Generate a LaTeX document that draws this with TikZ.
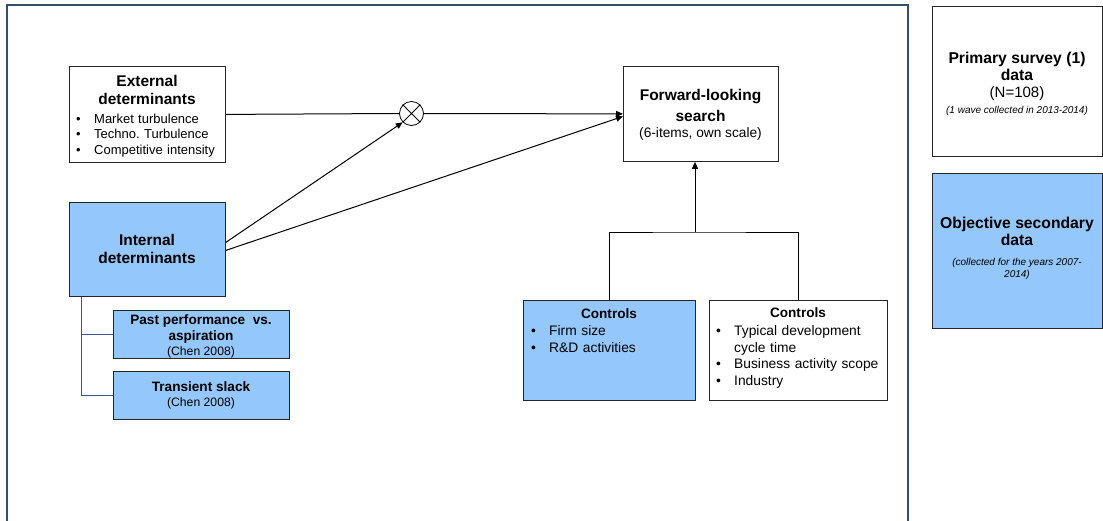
\documentclass[tikz,border=0pt]{standalone}
\usepackage{fontspec}
\setmainfont{Liberation Sans}
\usetikzlibrary{arrows.meta}
\definecolor{lblue}{RGB}{148,200,252}
\definecolor{framec}{RGB}{52,78,108}
\definecolor{treec}{RGB}{60,84,150}
\newcommand\bul{\hangindent=18pt\hangafter=1\makebox[18pt][l]{\textbullet}}
\frenchspacing
\begin{document}
\begin{tikzpicture}[x=1pt,y=-1pt,
  box/.style={draw=black!85, line width=0.8pt, inner sep=0pt, anchor=north west},
  bluebox/.style={box, fill=lblue},
  ttl/.style={font=\bfseries\fontsize{15.5}{18}\selectfont, align=center, inner sep=0pt, anchor=base},
  sttl/.style={font=\bfseries\fontsize{13.6}{16.7}\selectfont, align=center, inner sep=0pt, anchor=base},
  sub/.style={font=\fontsize{#1}{#1}\selectfont, align=center, inner sep=0pt, anchor=base},
  ital/.style={font=\itshape\fontsize{10}{11.3}\selectfont, align=center, inner sep=0pt, anchor=base},
  lst/.style={font=\fontsize{13}{15.7}\selectfont, align=left, inner sep=0pt, anchor=base west, text width=#1},
  clst/.style={font=\fontsize{13.8}{16.7}\selectfont, align=left, inner sep=0pt, anchor=base west, text width=#1},
  arr/.style={-{Triangle[length=7pt,width=6pt]}, line width=1pt},
  conn/.style={line width=1pt},
  treeline/.style={draw=treec, line width=1pt}
]
\useasboundingbox (0,0) rectangle (1103,520);
\clip (0,0) rectangle (1103,520);
% outer frame
\draw[framec, line width=1.5pt] (7,540) -- (7,5) -- (908,5) -- (908,540);

% boxes
\node[box, minimum width=156pt, minimum height=96pt] (ext) at (69,66) {};
\node[bluebox, minimum width=156pt, minimum height=94pt] (int) at (69,202) {};
\node[box, minimum width=155pt, minimum height=95pt] (fl) at (623,66) {};
\node[bluebox, minimum width=172pt, minimum height=100pt] (c1) at (523,300) {};
\node[box, minimum width=178pt, minimum height=100pt] (c2) at (709,300) {};
\node[bluebox, minimum width=176pt, minimum height=48pt] (pp) at (113,310) {};
\node[bluebox, minimum width=176pt, minimum height=48pt] (ts) at (113,371) {};
\node[box, minimum width=170pt, minimum height=150pt] (ps) at (932,6) {};
\node[bluebox, minimum width=170pt, minimum height=155pt] (os) at (932,173) {};
\node[draw, circle, minimum size=24pt, inner sep=0pt, line width=0.8pt] (ot) at (411.5,113.5) {};
\draw[line width=0.8pt] (ot.north west) -- (ot.south east) (ot.north east) -- (ot.south west);

% texts (multi-line nodes anchored at their last baseline)
\node[ttl] (extt) at (147,104.3) {External\\determinants};
\node[lst=145pt] (extl) at (76,123) {\bul Market turbulence\par\bul Techno. Turbulence\par\bul Competitive intensity};
\node[ttl] (intt) at (147,263) {Internal\\determinants};
\node[ttl, font=\bfseries\fontsize{15.5}{20.3}\selectfont] (flt) at (700.5,121) {Forward-looking\\search};
\node[sub=13.7] (fls) at (700.5,137) {(6-items, own scale)};
\node[sttl] (c1t) at (609,318) {Controls};
\node[clst=160pt] (c1l) at (531,335.5) {\bul Firm size\par\bul R\&D activities};
\node[sttl] (c2t) at (798,317) {Controls};
\node[clst=169pt] (c2l) at (716,335.5) {\bul Typical development cycle time\par\bul Business activity scope\par\bul Industry};
\node[sttl] (ppt) at (201,340.7) {Past performance\ \ vs.\\aspiration};
\node[sub=12.2] (pps) at (201,355) {(Chen 2008)};
\node[sttl] (tst) at (201,391.7) {Transient slack};
\node[sub=12.2] (tss) at (201,406.7) {(Chen 2008)};
\node[ttl, font=\bfseries\fontsize{15.7}{16.7}\selectfont] (pst) at (1017,80) {Primary survey (1)\\data};
\node[sub=15] (psn) at (1017,97.7) {(N=108)};
\node[ital] (psi) at (1017,113) {(1 wave collected in 2013-2014)};
\node[ttl, font=\bfseries\fontsize{15.7}{17.7}\selectfont] (ost) at (1017,245.7) {Objective secondary\\data};
\node[ital] (osi) at (1017,277) {(collected for the years 2007-\\2014)};

% connectors
\draw[conn] (ext.east) -- (ot.west);
\draw[arr] (ot.east) -- (fl.west);
\draw[arr] ([yshift=7pt]int.east) -- (ot.south west);
\draw[arr] ([yshift=-1pt]int.east) -- ([yshift=-2.5pt]fl.west);
\coordinate (j) at (695,232);
\draw[conn] (c1.north) |- (j) -| (c2.north);
\draw[arr] (j) -- (j |- fl.south);
\draw[treeline] ([xshift=12pt]int.south west) |- (pp.west);
\draw[treeline] ([xshift=12pt]int.south west) |- (ts.west);
\end{tikzpicture}
\end{document}
